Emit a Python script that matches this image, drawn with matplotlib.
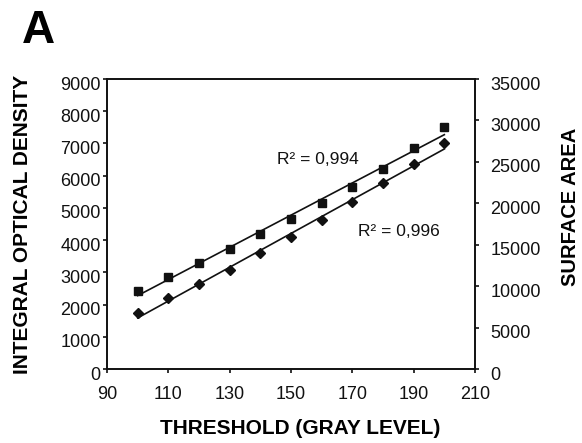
import numpy as np
import matplotlib
matplotlib.use("Agg")
import matplotlib.pyplot as plt
import matplotlib.transforms as mtransforms

plt.rcParams['font.family'] = ['Liberation Sans', 'DejaVu Sans']

threshold = [100, 110, 120, 130, 140, 150, 160, 170, 180, 190, 200]
optical_density = [2430, 2850, 3300, 3720, 4180, 4660, 5165, 5660, 6210, 6850, 7500]
surface_area = [6730, 8540, 10230, 11960, 13970, 15980, 17990, 20130, 22430, 24720, 27260]
r2_od = "R² = 0,994"
r2_sa = "R² = 0,996"

W, H = 582, 443
fig = plt.figure(figsize=(W/100, H/100), dpi=100)
ax = fig.add_axes([107/W, 1-369/H, 368/W, 290/H])
ax2 = ax.twinx()

x = np.array(threshold)
p1 = np.polyfit(x, optical_density, 1)
p2 = np.polyfit(x, surface_area, 1)
xf = np.array([x.min(), x.max()])

ax.plot(x, optical_density, linestyle='none', marker='s', markersize=5.8, color='#111111')
ax.plot(xf, np.polyval(p1, xf), color='#111111', lw=1.2)
ax2.plot(x, surface_area, linestyle='none', marker='D', markersize=5, color='#111111')
ax2.plot(xf, np.polyval(p2, xf), color='#111111', lw=1.2)

ax.set_xlim(90, 210)
ax.set_ylim(0, 9000)
ax2.set_ylim(0, 35000)
ax.set_xticks(range(90, 211, 20))
ax.set_yticks(range(0, 9001, 1000))
ax2.set_yticks(range(0, 35001, 5000))

for a in (ax, ax2):
    a.tick_params(direction='out', length=3, width=1.2, labelsize=13, colors='#111111')
    for s in a.spines.values():
        s.set_linewidth(1.2)
        s.set_color('#111111')
ax.tick_params(axis='x', pad=9)
ax.tick_params(axis='y', pad=1.5)
ax2.tick_params(axis='y', pad=8)

off = mtransforms.ScaledTranslation(0, -4/100, fig.dpi_scale_trans)
for lab in ax.get_yticklabels() + ax2.get_yticklabels():
    lab.set_transform(lab.get_transform() + off)

fig.text(300/W, 1-428/H, 'THRESHOLD (GRAY LEVEL)', fontsize=15, fontweight='bold',
         ha='center', va='center')
fig.text(23/W, 1-224/H, 'INTEGRAL OPTICAL DENSITY', fontsize=15, fontweight='bold',
         ha='center', va='center', rotation=90)
fig.text(571/W, 1-207/H, 'SURFACE AREA', fontsize=14.5, fontweight='bold',
         ha='center', va='center', rotation=90)

ax.text(145.4, 6366, r2_od, fontsize=12.5, color='#111111')
ax.text(171.8, 4130, r2_sa, fontsize=12.5, color='#111111')

fig.text(22/W, 1-43/H, 'A', fontsize=33, fontweight='bold', ha='left', va='baseline')

fig.savefig('out.png', dpi=100)
